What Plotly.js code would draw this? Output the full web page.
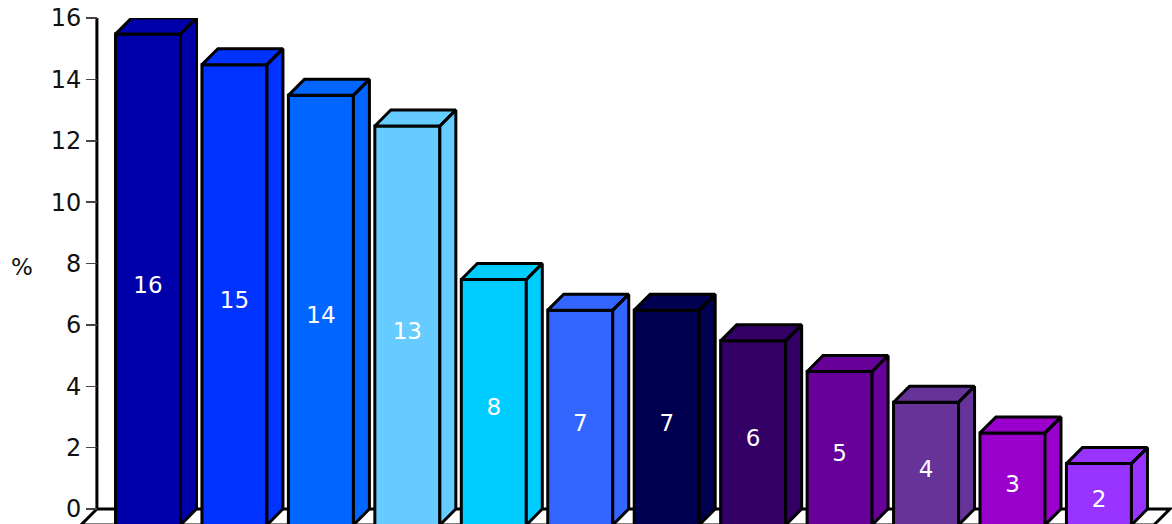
<!DOCTYPE html>
<html>
<head>
<meta charset="utf-8">
<script src="https://cdn.plot.ly/plotly-3.0.1.min.js"></script>
<style>html,body{margin:0;padding:0;background:#fff;}#chart{width:1172px;height:524px;}</style>
</head>
<body>
<div id="chart"></div>
<script>
// ---- data ----
const positions = [0,1,2,3,4,5,6,7,8,9,10,11];
const values = [16,15,14,13,8,7,7,6,5,4,3,2];
const labels = ['16','15','14','13','8','7','7','6','5','4','3','2'];
const colors = ['#0000AA','#0033FF','#0066FF','#66CCFF','#00CCFF','#3366FF','#000050','#330066','#660099','#663399','#9900CC','#9933FF'];
const yTicks = [0,2,4,6,8,10,12,14,16];
const yTitle = '%';

// ---- 3D geometry (style constants) ----
const W = 0.752;   // bar width (category units)
const DX = 0.185;  // depth offset in x (category units)
const DY = 0.521;  // depth offset in y (value units)
const BELOW = 0.33; // front face continues below the visible floor edge
const FONT = 'DejaVu Sans, Verdana, sans-serif';

const traces = [];
// front faces
traces.push({
  type: 'bar',
  x: positions,
  y: values.map(v => v + BELOW),
  base: values.map(() => -DY - BELOW),
  width: W,
  marker: {color: colors, line: {color: '#000', width: 3}},
  text: labels,
  textposition: 'inside',
  insidetextanchor: 'middle',
  textfont: {color: '#fff', size: 23, family: FONT},
  hoverinfo: 'skip',
  showlegend: false
});
// top and side faces
positions.forEach((p, i) => {
  const v = values[i];
  const l = p - W / 2, r = p + W / 2;
  const xs = [l, l + DX, r + DX, r, l, null, r, r + DX, r + DX, r, r];
  const ys = [v - DY, v, v, v - DY, v - DY, null, v - DY, v, 0, -DY, v - DY];
  traces.push({
    type: 'scatter', mode: 'lines', x: xs, y: ys,
    fill: 'toself', fillcolor: colors[i],
    line: {color: '#000', width: 3},
    hoverinfo: 'skip', showlegend: false
  });
});

const first = positions[0], last = positions[positions.length - 1];
const fl = first - W / 2 - 0.215;
const fr = last + W / 2 + DX + 0.26;
const floorPath = `M ${fl},0 L ${fr},0 L ${fr - DX},${-DY} L ${fl - DX},${-DY} Z`;

const layout = {
  width: 1172, height: 524,
  margin: {l: 80, r: 0, t: 18, b: 0},
  paper_bgcolor: '#fff', plot_bgcolor: 'rgba(0,0,0,0)',
  barmode: 'overlay',
  xaxis: {
    range: [-0.7866, 11.845], visible: false, fixedrange: true
  },
  yaxis: {
    range: [-0.4888, 16], anchor: 'free', position: 0.01557,
    tickvals: yTicks, ticktext: yTicks.map(String),
    ticks: 'outside', ticklen: 11, tickwidth: 1.5, tickcolor: '#444',
    showline: false, showgrid: false, zeroline: false, automargin: false,
    tickfont: {size: 24, family: FONT, color: '#111'}, fixedrange: true
  },
  shapes: [
    {type: 'path', path: floorPath, xref: 'x', yref: 'y', layer: 'below',
     fillcolor: '#fff', line: {color: '#000', width: 3}},
    {type: 'line', xref: 'x', yref: 'y', x0: fl, x1: fl, y0: 0, y1: yTicks[yTicks.length - 1],
     layer: 'below', line: {color: '#000', width: 3}}
  ],
  annotations: [
    {text: yTitle, xref: 'paper', yref: 'y', x: -0.053, y: 7.9, xanchor: 'center', yanchor: 'middle',
     showarrow: false, font: {size: 23, family: FONT, color: '#111'}}
  ],
  showlegend: false
};

Plotly.newPlot('chart', traces, layout, {displayModeBar: false, staticPlot: true});
</script>
</body>
</html>
